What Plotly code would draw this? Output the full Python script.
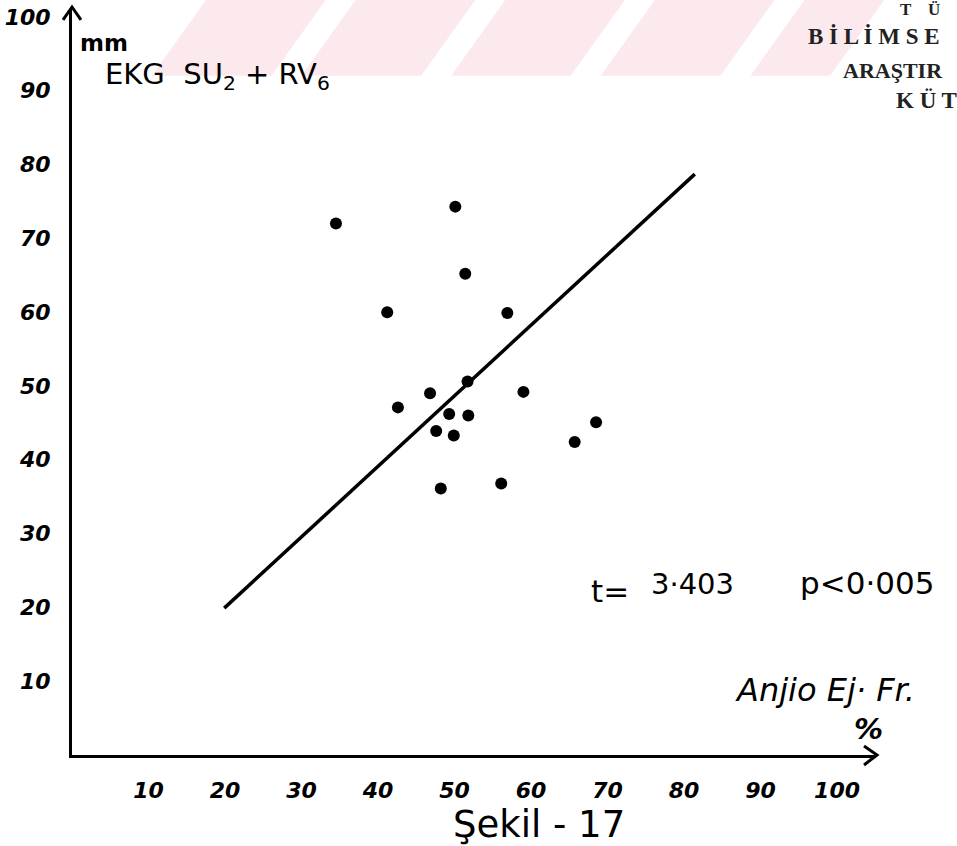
import plotly.graph_objects as go

# ---- data ----
x_ticks = [10, 20, 30, 40, 50, 60, 70, 80, 90, 100]
y_ticks = [10, 20, 30, 40, 50, 60, 70, 80, 90, 100]

ejection_fraction = [34.5, 50.1, 51.4, 41.2, 56.9, 51.7, 46.8, 42.6, 59.0,
                     49.3, 51.8, 47.6, 49.9, 68.5, 65.7, 48.2, 56.1]
ekg_mm = [72.0, 74.3, 65.2, 60.0, 59.9, 50.6, 49.0, 47.1, 49.2,
          46.2, 46.0, 43.9, 43.3, 45.1, 42.4, 36.1, 36.8]

fit_x = [19.9, 81.4]
fit_y = [19.9, 78.7]

# ---- layout geometry (pixels) ----
W, H = 957, 846
L, R, T, B = 70, 82, 5, 91
PW, PH = W - L - R, H - T - B


def pxx(x):
    return (x - L) / PW


def pxy(y):
    return (H - B - y) / PH


fig = go.Figure()

# watermark stripes (faint pink)
stripes = [(150, 270), (300, 420), (450, 570), (600, 720), (750, 830)]
for a, b in stripes:
    fig.add_shape(type="path", xref="paper", yref="paper",
                  path=f"M {pxx(a)} {pxy(72)} L {pxx(b)} {pxy(72)} L {pxx(b+55)} {pxy(-5)} L {pxx(a+55)} {pxy(-5)} Z",
                  fillcolor="rgba(250,215,222,0.55)", line=dict(width=0), layer="below")

# axis arrowheads (open V strokes)
fig.add_shape(type="path", xref="paper", yref="paper",
              path=f"M {pxx(864)} {pxy(746)} L {pxx(877)} {pxy(755)} L {pxx(864)} {pxy(765)}",
              line=dict(color="black", width=3))
fig.add_shape(type="path", xref="paper", yref="paper",
              path=f"M {pxx(61)} {pxy(16)} L {pxx(70)} {pxy(3)} L {pxx(79)} {pxy(16)}",
              line=dict(color="black", width=3))

fig.add_trace(go.Scatter(x=fit_x, y=fit_y, mode="lines",
                         line=dict(color="black", width=3.5), hoverinfo="skip"))
fig.add_trace(go.Scatter(x=ejection_fraction, y=ekg_mm, mode="markers",
                         marker=dict(color="black", size=12, symbol="circle")))

tickfont = dict(family="DejaVu Sans", size=22, color="black", weight="bold", style="italic")

fig.update_layout(
    width=W, height=H,
    margin=dict(l=L, r=R, t=T, b=B),
    paper_bgcolor="white", plot_bgcolor="rgba(0,0,0,0)",
    showlegend=False,
    xaxis=dict(range=[0, PW / 7.67], tickvals=x_ticks, ticktext=[str(v) for v in x_ticks],
               showgrid=False, zeroline=False, showline=True, linecolor="black", linewidth=3,
               ticks="", tickfont=tickfont, ticklabelstandoff=14),
    yaxis=dict(range=[0, PH / 7.42], tickvals=y_ticks, ticktext=[str(v) for v in y_ticks],
               showgrid=False, zeroline=False, showline=True, linecolor="black", linewidth=3,
               ticks="", tickfont=tickfont, ticklabelstandoff=14),
)

hand = "DejaVu Sans"


def note(text, x, y, size, xanchor="left", **kw):
    fig.add_annotation(xref="paper", yref="paper", x=pxx(x), y=pxy(y), text=text,
                       showarrow=False, xanchor=xanchor, yanchor="middle",
                       font=dict(family=hand, size=size, color="black", **kw))


note("<b>mm</b>", 76, 39, 23)
note("EKG  SU<sub>2</sub> + RV<sub>6</sub>", 101, 72, 29)
note("t=", 588, 590, 31)
note("3·403", 648, 583, 29)
note("p&lt;0·005", 798, 582, 31)
note("Anjio Ej· Fr.", 733, 690, 32, style="italic")
note("%", 868, 729, 29, xanchor="center", style="italic", weight="bold")
note("Şekil - 17", 538, 825, 37, xanchor="center")

# library stamp (top right, partly visible)
stamp = dict(family="Liberation Serif", size=23, color="#222222", weight="bold")
for txt, xx, yy, sz in [("T    Ü", 898, 5, 17), ("B İ L İ M S E", 806, 33, 23),
                        ("ARAŞTIR", 841, 67, 22), ("K Ü T", 894, 97, 23)]:
    fig.add_annotation(xref="paper", yref="paper", x=pxx(xx), y=pxy(yy), text=txt,
                       showarrow=False, xanchor="left", yanchor="middle",
                       font=dict(stamp, size=sz))

fig.write_html("out.html")
